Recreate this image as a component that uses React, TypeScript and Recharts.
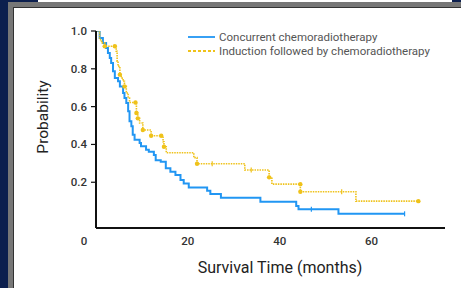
import { ComposedChart, Line, Scatter, XAxis, YAxis } from 'recharts'

// Kaplan-Meier steps (months, survival probability)
const concurrentMonths = [
  0, 0.8, 1.5, 2.2, 2.6, 3.0, 3.3, 3.7, 4.1, 4.8, 5.2, 5.9, 6.2, 6.6, 7.0, 7.3, 7.7, 8.0, 8.4, 9.5,
  9.8, 10.9, 11.5, 12.6, 13.0, 14.1, 15.2, 16.2, 17.3, 18.4, 19.1, 20.2, 24.2, 24.9, 27.2, 35.8,
  43.6, 44.1, 52.8, 67.2,
]
const concurrentSurvival = [
  1.0, 0.963, 0.937, 0.91, 0.884, 0.857, 0.831, 0.787, 0.751, 0.734, 0.707, 0.672, 0.646, 0.619,
  0.575, 0.522, 0.496, 0.451, 0.425, 0.407, 0.39, 0.372, 0.361, 0.344, 0.317, 0.308, 0.274, 0.256,
  0.238, 0.212, 0.194, 0.172, 0.155, 0.138, 0.118, 0.097, 0.075, 0.057, 0.033, 0.033,
]
const concurrentCensorMonths = [46.9, 67.2]
const concurrentCensorSurvival = [0.057, 0.033]

const inductionMonths = [
  0, 0.8, 1.2, 1.9, 4.4, 4.6, 4.8, 5.2, 5.5, 5.9, 6.2, 6.6, 7.0, 7.3, 8.8, 9.1, 9.5, 10.2, 12.0,
  14.6, 14.8, 15.3, 21.3, 22.0, 32.4, 37.7, 38.3, 44.5, 56.6, 70.2,
]
const inductionSurvival = [
  1.0, 0.954, 0.937, 0.919, 0.893, 0.84, 0.813, 0.769, 0.751, 0.734, 0.707, 0.672, 0.646, 0.622,
  0.566, 0.538, 0.513, 0.476, 0.446, 0.414, 0.388, 0.356, 0.33, 0.298, 0.265, 0.226, 0.19, 0.15,
  0.1, 0.1,
]
const inductionDotMonths = [1.9, 4.1, 5.2, 6.2, 8.6, 8.8, 9.1, 10.2, 12.0, 14.2, 14.8, 22.0, 37.7, 44.5, 44.5, 70.2]
const inductionDotSurvival = [
  0.919, 0.919, 0.769, 0.707, 0.622, 0.566, 0.538, 0.476, 0.446, 0.446, 0.388, 0.298, 0.226, 0.19,
  0.15, 0.1,
]
const inductionTickMonths = [25.3, 33.8, 53.5]
const inductionTickSurvival = [0.298, 0.265, 0.15]

const xTicks = [0, 20, 40, 60]
const yTicks = [0.2, 0.4, 0.6, 0.8, 1.0]

const BLUE = '#2196f3'
const GOLD = '#efc21a'
const FONT = 'Roboto, "Liberation Sans", sans-serif'

const zip = (t: number[], p: number[]) => t.map((v, i) => ({ t: v, p: p[i] }))

const concurrent = zip(concurrentMonths, concurrentSurvival)
const concurrentCensor = zip(concurrentCensorMonths, concurrentCensorSurvival)
const induction = zip(inductionMonths, inductionSurvival)
const inductionDots = zip(inductionDotMonths, inductionDotSurvival)
const inductionTicks = zip(inductionTickMonths, inductionTickSurvival)

const XTick = ({ x, y, payload }: any) => (
  <text
    x={x + (payload.value === 0 ? -12 : 0)}
    y={y + 9}
    textAnchor="middle"
    fontSize={11.5}
    fontWeight={500}
    fill="#333"
    fontFamily={FONT}
  >
    {payload.value}
  </text>
)

const YTick = ({ x, y, payload }: any) => (
  <text x={x - 2} y={y + 4} textAnchor="end" fontSize={11.5} fontWeight={500} fill="#333" fontFamily={FONT}>
    {payload.value.toFixed(1)}
  </text>
)

const tickMark = (color: string) => (props: any) => (
  <line x1={props.cx} x2={props.cx} y1={props.cy - 2.5} y2={props.cy + 2.5} stroke={color} strokeWidth={1.2} />
)

const dotMark = (props: any) => <circle cx={props.cx} cy={props.cy} r={2.2} fill={GOLD} />

// legend drawn as an overlay so it takes no space from the plot
const LegendBox = () => (
  <svg width={260} height={30} style={{ position: 'absolute', left: 188, top: 30 }}>
    <line x1={0} x2={27} y1={7} y2={7} stroke={BLUE} strokeWidth={1.8} />
    <text x={31} y={11} fontSize={11.5} fill="#555" fontFamily={FONT}>
      Concurrent chemoradiotherapy
    </text>
    <line x1={0} x2={27} y1={21} y2={21} stroke={GOLD} strokeWidth={1.8} strokeDasharray="3 2" />
    <text x={31} y={25} fontSize={11.5} fill="#555" fontFamily={FONT}>
      Induction followed by chemoradiotherapy
    </text>
  </svg>
)

export default function App() {
  return (
    <div style={{ position: 'absolute', left: 0, top: 0, width: 461, height: 288, background: '#0c1f4e', overflow: 'hidden' }}>
      <div style={{ position: 'absolute', left: 38, top: 0, width: 414, height: 2, background: '#fff' }} />
      <div style={{ position: 'absolute', left: 8, top: 2, right: 0, bottom: 0, background: '#777' }} />
      <div style={{ position: 'absolute', left: 13, top: 7, right: 0, bottom: 0, background: '#333' }} />
      <div style={{ position: 'absolute', left: 14, top: 8, right: 0, bottom: 0, background: '#fff' }} />
      <div style={{ position: 'absolute', left: 0, top: 0 }}>
        <ComposedChart width={461} height={288} margin={{ top: 31, right: 16, bottom: 0, left: 0 }}>
          <XAxis
            dataKey="t"
            type="number"
            domain={[0, 76]}
            ticks={xTicks}
            tick={<XTick />}
            tickLine={false}
            axisLine={{ stroke: '#111', strokeWidth: 2 }}
            height={60}
            allowDataOverflow
            label={{
              content: () => (
                <text x={280} y={273} textAnchor="middle" fontSize={16} fill="#222" fontFamily={FONT}>
                  Survival Time (months)
                </text>
              ),
            }}
          />
          <YAxis
            dataKey="p"
            type="number"
            domain={[-0.042, 1]}
            ticks={yTicks}
            tick={<YTick />}
            tickSize={5}
            tickLine={{ stroke: '#111', strokeWidth: 1.2 }}
            axisLine={{ stroke: '#111', strokeWidth: 2 }}
            width={96}
            allowDataOverflow
            label={{
              content: () => (
                <text
                  x={48}
                  y={117}
                  textAnchor="middle"
                  fontSize={15.5}
                  fill="#222"
                  fontFamily={FONT}
                  transform="rotate(-90 48 117)"
                >
                  Probability
                </text>
              ),
            }}
          />
          <Line
            data={concurrent}
            dataKey="p"
            type="stepAfter"
            stroke={BLUE}
            strokeWidth={2}
            dot={false}
            isAnimationActive={false}
          />
          <Line
            data={induction}
            dataKey="p"
            type="stepAfter"
            stroke={GOLD}
            strokeWidth={1.6}
            strokeDasharray="1.5 1"
            dot={false}
            isAnimationActive={false}
          />
          <Scatter data={concurrentCensor} dataKey="p" shape={tickMark(BLUE)} isAnimationActive={false} />
          <Scatter data={inductionTicks} dataKey="p" shape={tickMark(GOLD)} isAnimationActive={false} />
          <Scatter data={inductionDots} dataKey="p" shape={dotMark} isAnimationActive={false} />
        </ComposedChart>
      </div>
      <LegendBox />
    </div>
  )
}
